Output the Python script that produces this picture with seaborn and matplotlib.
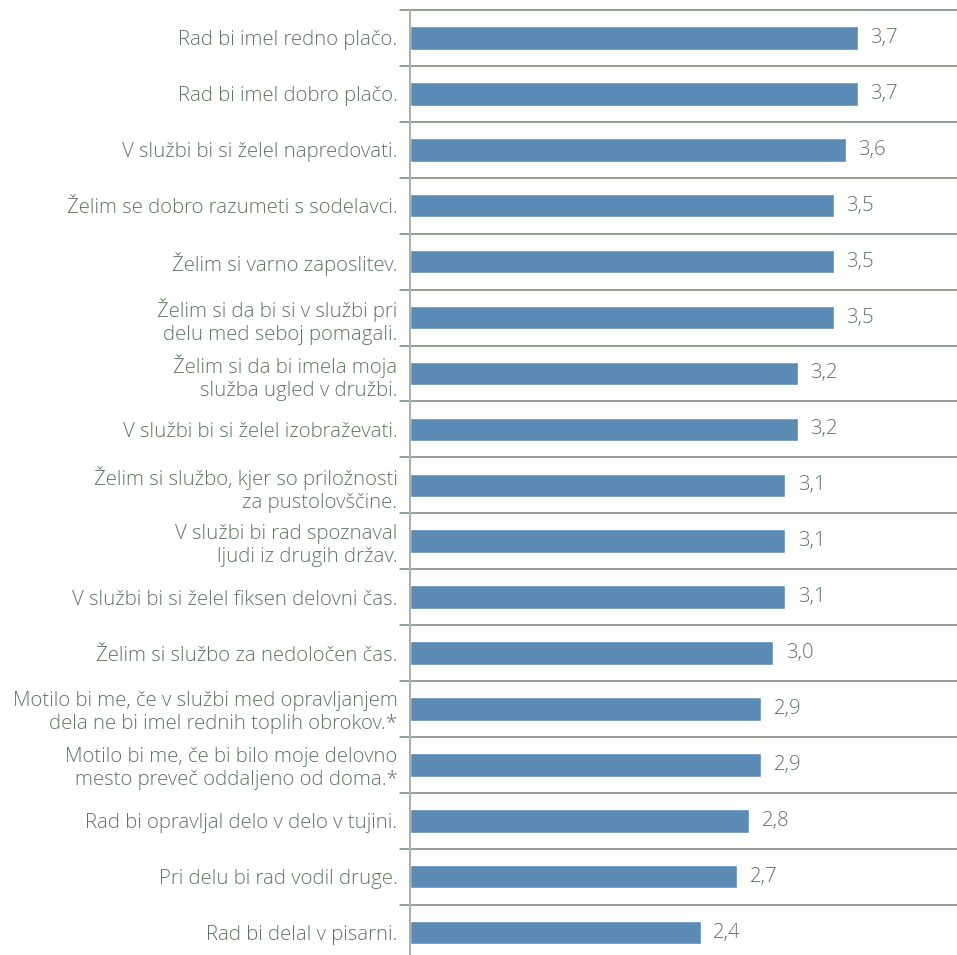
import matplotlib
matplotlib.use("Agg")
import matplotlib.pyplot as plt
import seaborn as sns
import pandas as pd

trditve = [
    "Rad bi imel redno plačo.",
    "Rad bi imel dobro plačo.",
    "V službi bi si želel napredovati.",
    "Želim se dobro razumeti s sodelavci.",
    "Želim si varno zaposlitev.",
    "Želim si da bi si v službi pri\ndelu med seboj pomagali.",
    "Želim si da bi imela moja\nslužba ugled v družbi.",
    "V službi bi si želel izobraževati.",
    "Želim si službo, kjer so priložnosti\nza pustolovščine.",
    "V službi bi rad spoznaval\nljudi iz drugih držav.",
    "V službi bi si želel fiksen delovni čas.",
    "Želim si službo za nedoločen čas.",
    "Motilo bi me, če v službi med opravljanjem\ndela ne bi imel rednih toplih obrokov.*",
    "Motilo bi me, če bi bilo moje delovno\nmesto preveč oddaljeno od doma.*",
    "Rad bi opravljal delo v delo v tujini.",
    "Pri delu bi rad vodil druge.",
    "Rad bi delal v pisarni.",
]
povprecje = [3.7, 3.7, 3.6, 3.5, 3.5, 3.5, 3.2, 3.2, 3.1, 3.1, 3.1, 3.0, 2.9, 2.9, 2.8, 2.7, 2.4]

df = pd.DataFrame({"trditev": trditve, "povprecje": povprecje})

sns.set_style("white")
plt.rcParams["font.family"] = ["Open Sans", "DejaVu Sans"]
plt.rcParams["font.weight"] = "light"

txt = "#5f7563"
fig = plt.figure(figsize=(9.57, 9.55), dpi=100)
ax = fig.add_axes([410 / 957, 0, 1 - 410 / 957, 1 - 10 / 955])

sns.barplot(data=df, x="povprecje", y="trditev", orient="h", color="#5b8bb5",
            saturation=1, width=0.42, ax=ax)

ax.set_xlim(0, 547 / 121.1)
ax.set_ylim(16.4, -0.5)

for i in range(len(trditve)):
    ax.axhline(i - 0.5, xmin=-0.018, xmax=1, color="#71866f", lw=1.1, clip_on=False, zorder=0)

for s in ["top", "right", "bottom"]:
    ax.spines[s].set_visible(False)
ax.spines["left"].set_color("#a9b5aa")
ax.spines["left"].set_linewidth(1.5)

ax.set_xticks([])
ax.set_xlabel("")
ax.set_ylabel("")
ax.tick_params(axis="y", length=0, pad=9, labelsize=14.7, labelcolor=txt)
for t in ax.get_yticklabels():
    t.set_multialignment("right")
    t.set_fontweight("light")

ax.bar_label(ax.containers[0], labels=[f"{v:.1f}".replace(".", ",") for v in povprecje],
             padding=9, fontsize=14.7, color=txt, fontweight="light")

fig.savefig("out.png", dpi=100)
